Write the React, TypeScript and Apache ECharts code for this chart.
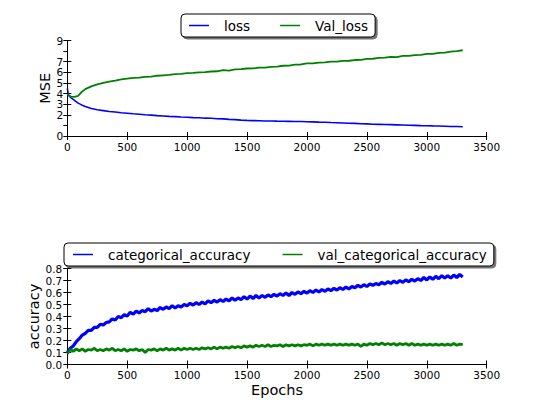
import React, { useEffect, useRef } from "react";
import * as echarts from "echarts";

// epochs sampled for the loss curves
const lossEpochs: number[] = [0, 10, 30, 60, 90, 120, 150,
  200, 250, 300, 350, 400, 450, 500, 550, 600, 650, 700, 750, 800, 850, 900, 950,
  1000, 1050, 1100, 1150, 1200, 1250, 1300, 1350, 1400, 1450, 1500, 1550, 1600, 1650, 1700, 1750,
  1800, 1850, 1900, 1950, 2000, 2050, 2100, 2150, 2200, 2250, 2300, 2350, 2400, 2450, 2500, 2550,
  2600, 2650, 2700, 2750, 2800, 2850, 2900, 2950, 3000, 3050, 3100, 3150, 3200, 3250, 3300];

const loss: number[] = [4.5, 3.85, 3.62, 3.36, 3.1, 2.93, 2.79,
  2.6, 2.47, 2.39, 2.31, 2.26, 2.19, 2.15, 2.09, 2.05, 2.0, 1.97, 1.92, 1.89, 1.85, 1.83, 1.79,
  1.77, 1.73, 1.72, 1.68, 1.67, 1.63, 1.61, 1.57, 1.54, 1.5, 1.47, 1.45, 1.44, 1.42, 1.42, 1.4,
  1.39, 1.38, 1.37, 1.36, 1.35, 1.33, 1.31, 1.3, 1.27, 1.25, 1.23, 1.2, 1.19, 1.16, 1.14, 1.11,
  1.1, 1.08, 1.07, 1.05, 1.03, 1.01, 1.0, 0.98, 0.97, 0.95, 0.94, 0.92, 0.9, 0.89, 0.87];

const valLoss: number[] = [3.95, 3.85, 3.72, 3.68, 3.78, 4.15, 4.42,
  4.68, 4.87, 5.0, 5.12, 5.22, 5.33, 5.4, 5.47, 5.5, 5.58, 5.6, 5.68, 5.72, 5.76, 5.84, 5.85,
  5.92, 5.94, 6.0, 6.02, 6.08, 6.1, 6.2, 6.17, 6.27, 6.3, 6.36, 6.37, 6.44, 6.45, 6.52, 6.54,
  6.62, 6.63, 6.72, 6.74, 6.84, 6.85, 6.92, 6.93, 7.0, 7.0, 7.08, 7.09, 7.16, 7.18, 7.26, 7.28,
  7.36, 7.38, 7.46, 7.44, 7.56, 7.55, 7.62, 7.65, 7.74, 7.74, 7.84, 7.86, 7.96, 8.0, 8.08];

// accuracy sampled every 25 epochs from 0 to 3300
const accStep = 25;
const categoricalAccuracy: number[] = [
  0.10, 0.135, 0.155, 0.19, 0.215, 0.245, 0.26, 0.285, 0.285, 0.31,
  0.31, 0.335, 0.33, 0.35, 0.355, 0.38, 0.37, 0.4, 0.39, 0.415,
  0.405, 0.435, 0.42, 0.445, 0.43, 0.45, 0.44, 0.465, 0.445, 0.46,
  0.45, 0.475, 0.46, 0.48, 0.465, 0.49, 0.47, 0.49, 0.48, 0.5,
  0.49, 0.51, 0.495, 0.515, 0.5, 0.52, 0.505, 0.53, 0.515, 0.535,
  0.52, 0.54, 0.525, 0.545, 0.53, 0.555, 0.535, 0.555, 0.54, 0.565,
  0.545, 0.57, 0.55, 0.575, 0.555, 0.575, 0.56, 0.58, 0.565, 0.585,
  0.57, 0.59, 0.575, 0.595, 0.575, 0.6, 0.585, 0.605, 0.59, 0.61,
  0.595, 0.615, 0.6, 0.62, 0.605, 0.625, 0.61, 0.63, 0.615, 0.635,
  0.62, 0.64, 0.625, 0.645, 0.63, 0.65, 0.64, 0.66, 0.645, 0.665,
  0.65, 0.67, 0.66, 0.675, 0.665, 0.685, 0.67, 0.69, 0.675, 0.695,
  0.68, 0.7, 0.685, 0.705, 0.69, 0.71, 0.695, 0.715, 0.7, 0.725,
  0.705, 0.73, 0.71, 0.735, 0.715, 0.74, 0.72, 0.74, 0.72, 0.745,
  0.725, 0.75, 0.73];

const valCategoricalAccuracy: number[] = [
  0.09, 0.125, 0.11, 0.13, 0.115, 0.13, 0.11, 0.125, 0.12, 0.135,
  0.115, 0.125, 0.115, 0.13, 0.12, 0.135, 0.115, 0.125, 0.115, 0.13,
  0.11, 0.125, 0.12, 0.13, 0.115, 0.125, 0.1, 0.125, 0.12, 0.13,
  0.115, 0.13, 0.12, 0.135, 0.12, 0.13, 0.12, 0.135, 0.12, 0.135,
  0.125, 0.135, 0.125, 0.135, 0.125, 0.14, 0.13, 0.14, 0.13, 0.145,
  0.13, 0.145, 0.135, 0.145, 0.135, 0.15, 0.14, 0.15, 0.14, 0.155,
  0.145, 0.155, 0.145, 0.16, 0.15, 0.16, 0.15, 0.165, 0.15, 0.16,
  0.155, 0.165, 0.15, 0.165, 0.155, 0.165, 0.155, 0.165, 0.155, 0.165,
  0.16, 0.17, 0.155, 0.17, 0.16, 0.17, 0.16, 0.17, 0.16, 0.17,
  0.16, 0.17, 0.16, 0.17, 0.16, 0.17, 0.16, 0.17, 0.15, 0.17,
  0.16, 0.175, 0.165, 0.175, 0.165, 0.18, 0.165, 0.175, 0.165, 0.175,
  0.16, 0.175, 0.165, 0.175, 0.16, 0.175, 0.16, 0.17, 0.16, 0.17,
  0.16, 0.17, 0.16, 0.17, 0.16, 0.17, 0.16, 0.17, 0.16, 0.175,
  0.16, 0.17, 0.165];

const xTickInterval = 500;
const xMax = 3500;

const FONT = "DejaVu Sans";
const BLUE = "#0000ff";
const GREEN = "#008000";

function zipPairs(xs: number[], ys: number[]): number[][] {
  const n = Math.min(xs.length, ys.length);
  const out: number[][] = [];
  for (let i = 0; i < n; i++) out.push([xs[i], ys[i]]);
  return out;
}
function stepPairs(step: number, ys: number[]): number[][] {
  return ys.map((y, i) => [i * step, y]);
}

export default function App() {
  const ref = useRef<HTMLDivElement>(null);
  useEffect(() => {
    if (!ref.current) return;
    const chart = echarts.init(ref.current, null, { renderer: "svg" });
    const axisLine = { show: true, lineStyle: { color: "#000", width: 1 } };
    const tickIn = { show: true, inside: true, length: 4, lineStyle: { color: "#000", width: 1 } };
    const labelStyle = {
      color: "#000", fontFamily: FONT, fontSize: 10.5,
      showMinLabel: true, showMaxLabel: true, hideOverlap: false,
    };
    const xBottom = (gi: number, name?: string) => ({
      type: "value", gridIndex: gi, min: 0, max: xMax, interval: xTickInterval, position: "bottom",
      axisLine, axisTick: tickIn, splitLine: { show: false },
      axisLabel: { ...labelStyle, margin: 5, formatter: (v: number) => String(v) },
      name: name || "", nameLocation: "middle", nameGap: 18,
      nameTextStyle: { color: "#000", fontFamily: FONT, fontSize: 14.5 },
    });
    const xTop = (gi: number) => ({
      type: "value", gridIndex: gi, min: 0, max: xMax, interval: xTickInterval, position: "top",
      axisLine, axisTick: tickIn, axisLabel: { show: false }, splitLine: { show: false },
    });
    const legendBase = {
      orient: "horizontal",
      icon: "rect",
      itemWidth: 20,
      itemHeight: 1.5,
      backgroundColor: "#fff",
      borderColor: "#000",
      borderWidth: 1,
      borderRadius: 4,
      shadowColor: "rgba(0,0,0,0.55)",
      shadowBlur: 0,
      shadowOffsetX: 2,
      shadowOffsetY: 2,
      textStyle: { color: "#000", fontFamily: FONT, fontSize: 13.5, lineHeight: 15, padding: [0, 0, 0, 10] },
    };
    chart.setOption({
      animation: false,
      backgroundColor: "#fff",
      grid: [
        { left: 67.3, top: 40.5, width: 419.4, height: 95.5 },
        { left: 67.3, top: 268.5, width: 419.4, height: 96 },
      ],
      legend: [
        { ...legendBase, left: 181, top: 14, itemGap: 30, padding: [4, 7, 4, 8], data: ["loss", "Val_loss"] },
        { ...legendBase, left: 64, top: 243, itemGap: 32, padding: [4, 7, 4, 9], data: ["categorical_accuracy", "val_categorical_accuracy"] },
      ],
      xAxis: [xBottom(0), xTop(0), xBottom(1, "Epochs"), xTop(1)],
      yAxis: [
        {
          type: "value", gridIndex: 0, min: 0, max: 9, interval: 1, position: "left",
          axisLine, axisTick: tickIn, splitLine: { show: false },
          axisLabel: { ...labelStyle, margin: 4, formatter: (v: number) => String(v) },
          name: "MSE", nameLocation: "middle", nameGap: 15, nameMoveOverlap: false,
          nameTextStyle: { color: "#000", fontFamily: FONT, fontSize: 14.5 },
        },
        {
          type: "value", gridIndex: 0, min: 0, max: 9, interval: 1, position: "right",
          axisLine, axisTick: tickIn, axisLabel: { show: false }, splitLine: { show: false },
        },
        {
          type: "value", gridIndex: 1, min: 0, max: 0.8, interval: 0.1, position: "left",
          axisLine, axisTick: tickIn, splitLine: { show: false },
          axisLabel: { ...labelStyle, margin: 5, formatter: (v: number) => v.toFixed(1) },
          name: "accuracy", nameLocation: "middle", nameGap: 26, nameMoveOverlap: false,
          nameTextStyle: { color: "#000", fontFamily: FONT, fontSize: 14.5 },
        },
        {
          type: "value", gridIndex: 1, min: 0, max: 0.8, interval: 0.1, position: "right",
          axisLine, axisTick: tickIn, axisLabel: { show: false }, splitLine: { show: false },
        },
      ],
      series: [
        { name: "loss", type: "line", xAxisIndex: 0, yAxisIndex: 0, showSymbol: false, symbol: "none",
          color: BLUE, lineStyle: { color: BLUE, width: 1.6 }, data: zipPairs(lossEpochs, loss) },
        { name: "Val_loss", type: "line", xAxisIndex: 0, yAxisIndex: 0, showSymbol: false, symbol: "none",
          color: GREEN, lineStyle: { color: GREEN, width: 1.8 }, data: zipPairs(lossEpochs, valLoss) },
        { name: "categorical_accuracy", type: "line", xAxisIndex: 2, yAxisIndex: 2, showSymbol: false, symbol: "none",
          color: BLUE, lineStyle: { color: BLUE, width: 3.2 }, data: stepPairs(accStep, categoricalAccuracy) },
        { name: "val_categorical_accuracy", type: "line", xAxisIndex: 2, yAxisIndex: 2, showSymbol: false, symbol: "none",
          color: GREEN, lineStyle: { color: GREEN, width: 2.8 }, data: stepPairs(accStep, valCategoricalAccuracy) },
      ],
    });
    return () => chart.dispose();
  }, []);
  return (
    <div
      ref={ref}
      style={{ position: "fixed", left: 0, top: 0, width: 540, height: 405, background: "#fff" }}
    />
  );
}
